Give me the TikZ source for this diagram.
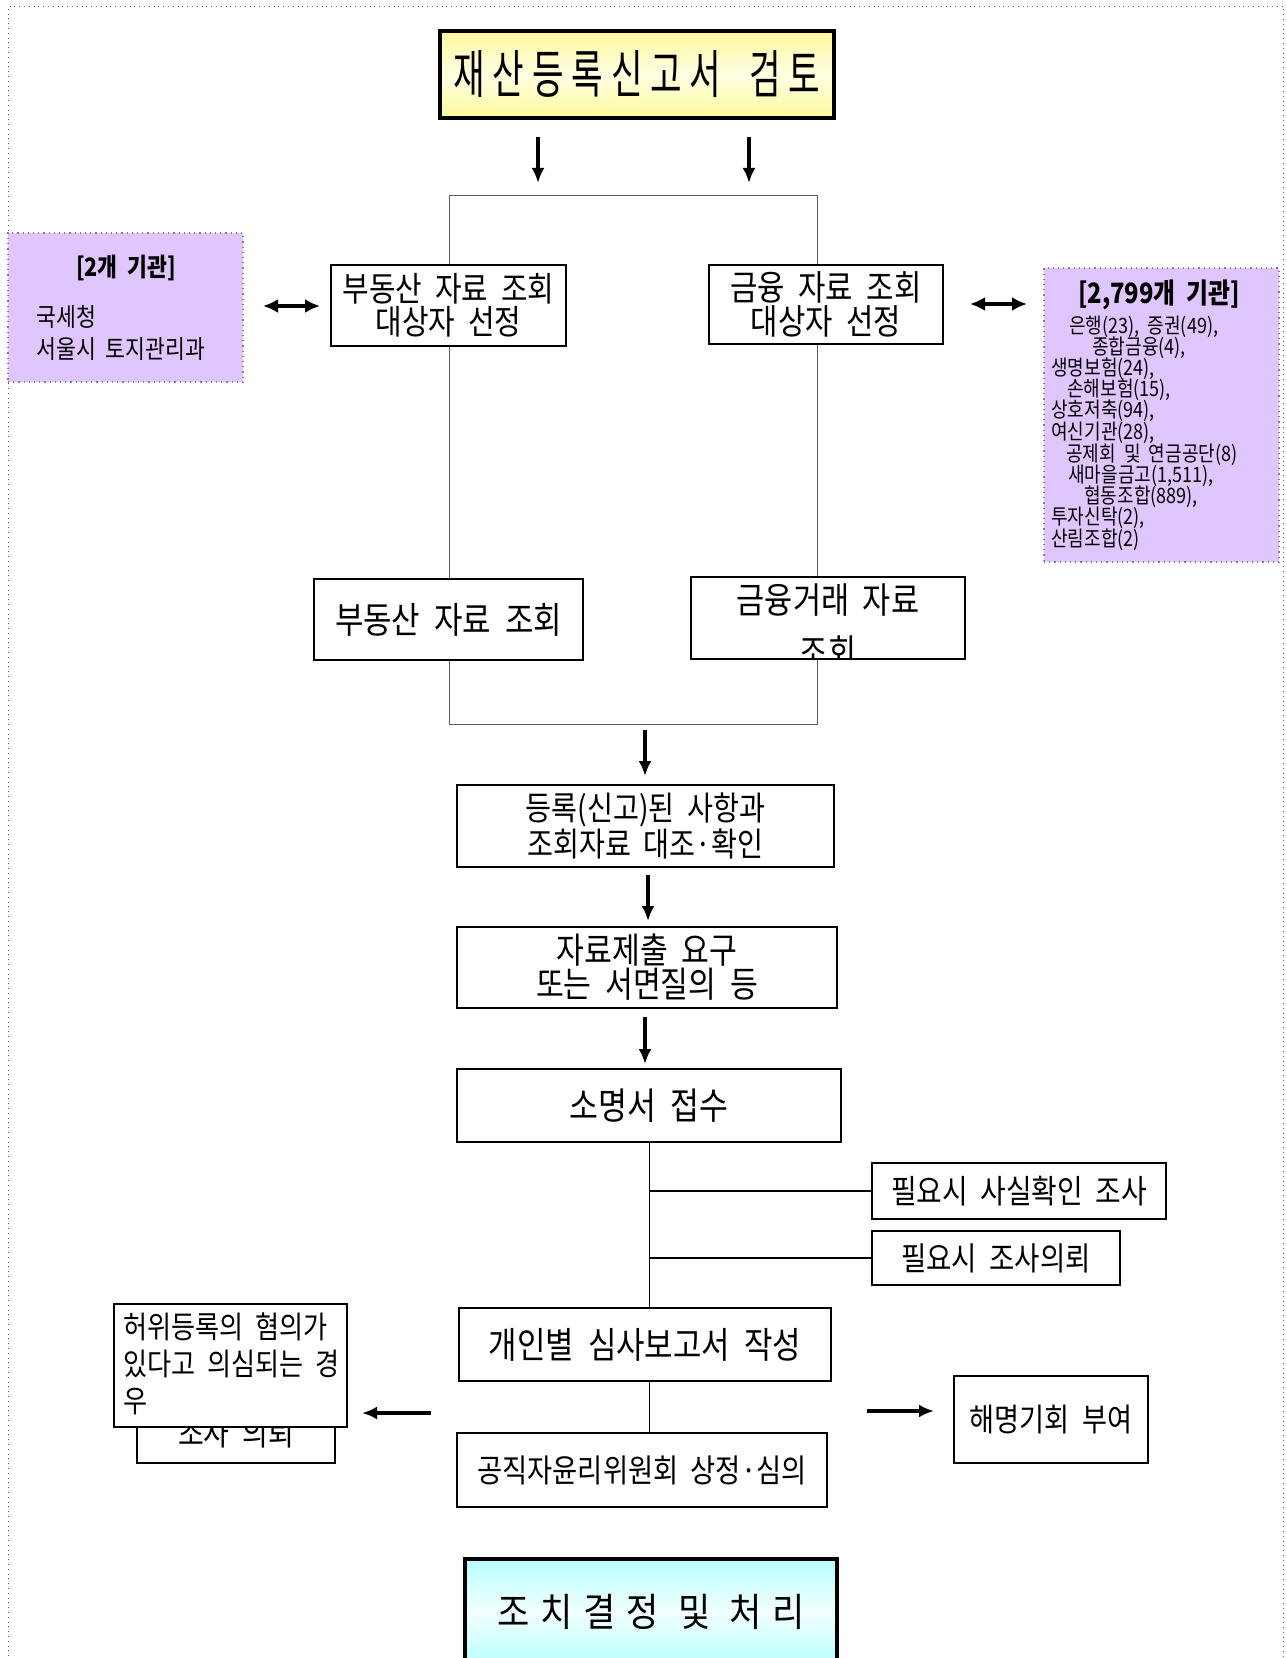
\documentclass[tikz,border=0pt]{standalone}
\usepackage{fontspec}
\setmainfont{Noto Sans CJK KR}[FakeStretch=0.85,WordSpace=2]
\newfontfamily\titlefont{Noto Sans CJK KR}[FakeStretch=0.66,LetterSpace=15]
\newfontfamily\endfont{Noto Sans CJK KR}[FakeStretch=0.9,LetterSpace=28]
\usetikzlibrary{arrows.meta}
\definecolor{purp}{RGB}{224,198,255}
\definecolor{yelA}{RGB}{255,248,155}
\definecolor{yelB}{RGB}{255,255,228}
\definecolor{cyA}{RGB}{185,255,255}
\definecolor{cyB}{RGB}{242,255,255}
\definecolor{frameg}{RGB}{90,90,90}
\newcommand{\fs}[2]{\fontsize{#1}{#2}\selectfont}
\begin{document}
\begin{tikzpicture}[x=0.5pt,y=-0.5pt,
  box/.style={draw=black,line width=0.6pt,fill=white,inner sep=0pt,align=center,font=\fs{16}{18}},
  purpbox/.style={draw=gray,dotted,line width=0.6pt,fill=purp,inner sep=0pt},
  arr/.style={line width=1.6pt,-{Latex[length=7.5pt,width=6.5pt]}},
  darr/.style={line width=1.7pt,{Latex[length=7.5pt,width=7pt]}-{Latex[length=7.5pt,width=7pt]}},
  frameline/.style={draw=frameg,line width=0.5pt},
  branch/.style={draw=black,line width=0.75pt},
  listtxt/.style={anchor=west,inner sep=0pt,font=\fs{10.6}{12}},
  lefttxt/.style={anchor=west,inner sep=0pt,font=\fs{12.7}{14}},
  headtxt/.style={inner sep=0pt}
]
\useasboundingbox (0,0) rectangle (1286,1658);
% outer dotted frame
\draw[frameg,dotted,line width=0.4pt] (8.5,1680) -- (8.5,6) -- (1283,6) -- (1283,1680);

% big frame behind the four boxes
\coordinate (f1) at (449,196);
\coordinate (f2) at (817,724);
\draw[frameline] (f1) rectangle (f2);

% title
\node[box,line width=1.6pt,top color=yelA,bottom color=yelA,middle color=yelB,
      minimum width=197pt,minimum height=43.5pt,
      font=\titlefont\fs{26}{28}] (title) at (637,74.5)
      {재산등록신고서\hspace{14pt}검토};

% arrows under title
\coordinate (a1s) at (538,137); \coordinate (a1e) at (538,183);
\coordinate (a2s) at (749,137); \coordinate (a2e) at (749,183);
\draw[arr] (a1s) -- (a1e);
\draw[arr] (a2s) -- (a2e);

% selection boxes
\node[box,minimum width=117.5pt,minimum height=40.5pt,font=\fs{17}{14.5}] (b1) at (448.5,305.5) {부동산 자료 조회\\대상자 선정};
\node[box,minimum width=117pt,minimum height=39.5pt,font=\fs{17.5}{15.5}] (g1) at (826,304.5) {금융 자료 조회\\대상자 선정};

% left purple box
\node[purpbox,minimum width=117.5pt,minimum height=74.5pt] (lp) at (125.5,307.5) {};
\node[headtxt,font=\bfseries\fs{12.7}{14}] (lph) at (126,268) {[2개 기관]};
\node[lefttxt] (lp1) at (36,317) {국세청};
\node[lefttxt] (lp2) at (36,349) {서울시 토지관리과};

% right purple box
\node[purpbox,minimum width=117.5pt,minimum height=147pt] (rp) at (1161.5,415) {};
\node[headtxt,font=\bfseries\fs{14}{16}] (rph) at (1159,295) {[2,799개 기관]};
\node[listtxt] (r1) at (1069,327) {은행(23), 증권(49),};
\node[listtxt] (r2) at (1092,348) {종합금융(4),};
\node[listtxt] (r3) at (1051,369) {생명보험(24),};
\node[listtxt] (r4) at (1067,390) {손해보험(15),};
\node[listtxt] (r5) at (1051,411) {상호저축(94),};
\node[listtxt] (r6) at (1051,433) {여신기관(28),};
\node[listtxt] (r7) at (1066,455) {공제회 및 연금공단(8)};
\node[listtxt] (r8) at (1068,476) {새마을금고(1,511),};
\node[listtxt] (r9) at (1084,497) {협동조합(889),};
\node[listtxt] (r10) at (1051,518) {투자신탁(2),};
\node[listtxt] (r11) at (1051,540) {산림조합(2)};

% double arrows
\coordinate (dl1) at (263,306); \coordinate (dl2) at (320,306);
\coordinate (dr1) at (970,304); \coordinate (dr2) at (1027,304);
\draw[darr] (dl1) -- (dl2);
\draw[darr] (dr1) -- (dr2);

% query boxes
\node[box,minimum width=134.5pt,minimum height=40.5pt,font=\fs{18.2}{20}] (b2) at (448.5,619.5) {부동산 자료 조회};
\node[box,minimum width=137pt,minimum height=41pt] (g2) at (828,618) {};
\begin{scope}
  \clip (g2.south west) rectangle (g2.north east);
  \node[inner sep=0pt,align=center,font=\fs{18}{26}] (g2t) at (828,626) {금융거래 자료\\조회};
\end{scope}

% main flow
\coordinate (a3s) at (645,730); \coordinate (a3e) at (645,776);
\draw[arr] (a3s) -- (a3e);
\node[box,minimum width=188.5pt,minimum height=41pt,font=\fs{16.6}{16}] (cmp) at (645.5,826) {등록(신고)된 사항과\\조회자료 대조·확인};
\coordinate (a4s) at (648,875); \coordinate (a4e) at (648,921);
\draw[arr] (a4s) -- (a4e);
\node[box,minimum width=190pt,minimum height=40.5pt,font=\fs{17.8}{17}] (req) at (647,967.5) {자료제출 요구\\또는 서면질의 등};
\coordinate (a5s) at (645,1017); \coordinate (a5e) at (645,1064);
\draw[arr] (a5s) -- (a5e);
\node[box,minimum width=192pt,minimum height=36.5pt,font=\fs{18.5}{20}] (rcv) at (649,1105.5) {소명서 접수};

\node[box,minimum width=147pt,minimum height=28pt,font=\fs{16.4}{18}] (chk) at (1019,1191) {필요시 사실확인 조사};
\node[box,minimum width=124pt,minimum height=27pt,font=\fs{16.2}{18}] (inv) at (996,1258) {필요시 조사의뢰};

\node[box,minimum width=186pt,minimum height=36.5pt,font=\fs{18.2}{20}] (rep) at (645,1344.5) {개인별 심사보고서 작성};
\node[box,minimum width=185pt,minimum height=37pt,font=\fs{16.1}{18}] (com) at (642,1470) {공직자윤리위원회 상정·심의};

\draw[frameline,draw=black] (rcv.south) -- (rcv.south |- rep.north);
\draw[frameline,draw=black] (rcv.south |- rep.south) -- (rcv.south |- com.north);
\draw[branch] (chk.west) -- (chk.west -| rcv.south);
\draw[branch] (inv.west) -- (inv.west -| rcv.south);

% left side boxes
\node[box,minimum width=99pt,minimum height=30pt,font=\fs{16.5}{18}] (inq) at (236,1433) {조사 의뢰};
\node[box,minimum width=116.5pt,minimum height=61.5pt] (susp) at (230.5,1365.5) {};
\node[anchor=west,inner sep=0pt,align=left,font=\fs{15.4}{18.5}] (suspt) at (123,1364) {허위등록의 혐의가\\있다고 의심되는 경\\우};

\coordinate (ll1) at (431,1413); \coordinate (ll2) at (362,1413);
\draw[arr] (ll1) -- (ll2);
\coordinate (rr1) at (867,1411); \coordinate (rr2) at (934,1411);
\draw[arr] (rr1) -- (rr2);
\node[box,minimum width=97pt,minimum height=43.5pt,font=\fs{16}{18}] (exp) at (1051,1419.5) {해명기회 부여};

% final box
\node[box,line width=1.6pt,top color=cyA,bottom color=cyA,middle color=cyB,
      minimum width=186pt,minimum height=53pt,
      font=\endfont\fs{19.5}{22}] (fin) at (651,1612) {조치결정 및 처리};
\end{tikzpicture}
\end{document}
